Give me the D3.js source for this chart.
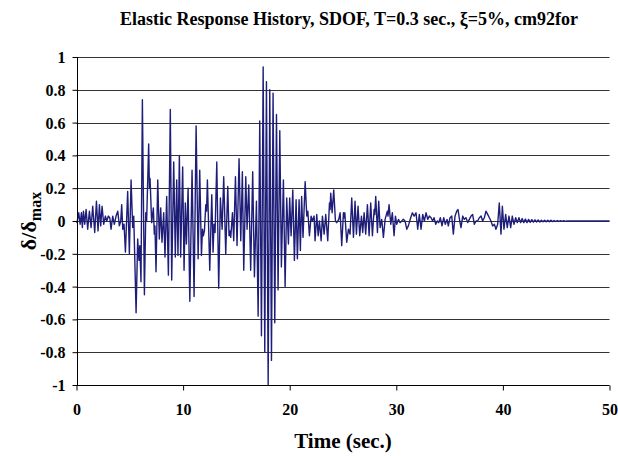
<!DOCTYPE html>
<html><head><meta charset="utf-8">
<script src="https://cdn.jsdelivr.net/npm/d3@7"></script>
<style>
body{margin:0;background:#fff;}
svg{display:block;}
text{font-family:"Liberation Serif","Times New Roman",serif;font-weight:bold;fill:#000;}
</style></head><body>
<svg id="c" width="618" height="456"></svg>
<script>
const titleText = "Elastic Response History, SDOF, T=0.3 sec., ξ=5%, cm92for";
const xLabel = "Time (sec.)";
const xTicks = [0, 10, 20, 30, 40, 50];
const yTicks = [1, 0.8, 0.6, 0.4, 0.2, 0, -0.2, -0.4, -0.6, -0.8, -1];
const yTickLabels = ["1","0.8","0.6","0.4","0.2","0","-0.2","-0.4","-0.6","-0.8","-1"];

const time = [0,0.05,0.21,0.34,0.46,0.55,0.65,0.77,0.90,1.05,1.21,1.37,1.52,1.71,1.87,2.02,2.15,2.27,2.40,2.55,2.71,2.84,2.99,3.12,3.24,3.40,3.55,3.71,3.87,4.02,4.15,4.24,4.34,4.46,4.59,4.80,4.96,5.12,5.27,5.37,5.59,5.74,5.86,5.94,6.05,6.18,6.37,6.50,6.58,6.77,6.84,6.90,7.05,7.21,7.30,7.36,7.46,7.62,7.77,7.90,8.02,8.18,8.30,8.46,8.62,8.80,8.93,9.12,9.27,9.40,9.52,9.65,9.77,9.96,10.09,10.21,10.31,10.47,10.63,10.84,11.03,11.22,11.41,11.56,11.72,11.82,11.90,12.0,12.13,12.20,12.28,12.5,12.69,12.81,12.90,13.0,13.16,13.34,13.5,13.66,13.81,14.0,14.19,14.31,14.40,14.47,14.63,14.75,14.91,15.06,15.25,15.41,15.56,15.69,15.88,16.0,16.16,16.34,16.53,16.69,16.88,17.04,17.19,17.35,17.51,17.66,17.82,17.98,18.13,18.29,18.44,18.6,18.76,18.91,19.07,19.22,19.41,19.57,19.72,19.88,20.0,20.13,20.29,20.44,20.6,20.72,20.88,21.0,21.12,21.25,21.45,21.6,21.7,21.85,22.01,22.13,22.29,22.38,22.54,22.67,22.79,22.95,23.07,23.23,23.38,23.57,23.73,23.79,23.85,23.98,24.13,24.29,24.41,24.6,24.73,24.88,25.04,25.10,25.17,25.35,25.51,25.66,25.82,25.98,26.13,26.26,26.41,26.57,26.73,26.85,26.98,27.13,27.29,27.45,27.6,27.76,27.92,27.98,28.07,28.23,28.35,28.48,28.63,28.79,28.95,29.16,29.22,29.32,29.48,29.63,29.79,29.92,30.04,30.2,30.35,30.51,30.66,30.82,30.98,31.13,31.35,31.51,31.67,31.85,32.01,32.16,32.32,32.48,32.63,32.79,32.95,33.1,33.26,33.41,33.54,33.7,33.85,33.98,34.13,34.29,34.45,34.6,34.76,34.88,35.04,35.2,35.35,35.51,35.67,35.79,35.95,36.07,36.23,36.38,36.54,36.7,36.85,37.01,37.16,37.32,37.48,37.63,37.79,37.95,38.1,38.26,38.41,38.57,38.73,38.88,39.04,39.2,39.35,39.51,39.66,39.82,39.95,40.1,40.26,40.41,40.57,40.73,40.88,41.04,41.2,41.35,41.51,41.66,41.81,41.96,42.11,42.26,42.41,42.56,42.71,42.86,43.01,43.16,43.31,43.46,43.61,43.76,43.91,44.06,44.21,44.36,44.51,44.66,44.81,44.96,45.11,45.26,45.41,45.56,45.71,45.86,46.01,46.3,50];

const response = [0,-0.01,0.05,-0.02,0.05,-0.04,0.06,-0.02,0.07,-0.05,0.06,-0.04,0.09,-0.07,0.12,-0.06,0.10,-0.03,0.09,-0.02,0.03,0.0,0.03,0.02,-0.05,0.03,-0.02,0.03,0.06,-0.03,0.0,0.10,-0.05,-0.02,-0.19,0.18,-0.20,0.25,-0.04,0.03,-0.56,-0.11,-0.24,-0.15,-0.37,0.74,-0.45,0.05,0.0,0.47,0.20,0.26,-0.01,0.08,-0.08,-0.03,-0.31,0.25,-0.11,0.08,-0.13,0.05,-0.22,0.15,-0.33,0.68,-0.36,0.36,-0.22,0.25,-0.21,0.40,-0.22,0.33,-0.30,0.11,-0.14,0.20,-0.49,0.31,-0.46,0.58,-0.23,0.31,-0.21,-0.05,-0.09,-0.06,0.10,0.06,0.25,-0.30,0.16,-0.19,-0.02,-0.07,0.36,-0.41,0.14,-0.05,0.27,-0.20,0.21,-0.09,-0.06,-0.10,0.05,-0.12,0.27,-0.15,0.38,-0.12,0.30,-0.30,0.27,-0.05,0.22,-0.30,0.30,-0.34,0.12,-0.58,0.61,-0.70,0.94,-0.80,0.85,-1.0,0.80,-0.85,0.78,-0.62,0.65,-0.42,0.55,-0.28,0.25,-0.40,0.14,-0.14,0.14,-0.09,0.19,-0.24,0.13,-0.23,0.13,-0.18,0.15,-0.10,0.24,0.03,0.06,-0.09,0.03,0.0,0.03,-0.12,0.04,-0.09,0.0,-0.12,0.03,-0.08,0.04,-0.12,0.11,0.07,0.17,0.05,0.19,0.0,-0.01,0.01,0.05,-0.15,0.05,0.02,0.05,-0.13,-0.05,-0.08,0.14,-0.10,0.12,-0.08,0.09,-0.09,0.03,-0.07,0.05,-0.08,0.10,-0.09,0.11,-0.09,0.07,0.04,0.15,-0.07,0.12,-0.04,0.01,-0.10,0.01,0.06,0.03,0.10,-0.02,0.05,-0.09,0.03,-0.02,0.01,-0.01,0.0,0.01,0.0,-0.05,-0.03,0.02,0.05,0.03,0.05,-0.05,0.04,-0.05,0.04,0.0,0.05,0.01,0.03,0.02,0.0,0.02,-0.02,0.0,-0.01,0.02,-0.03,0.02,-0.02,0.01,-0.03,0.02,0.03,-0.08,0.03,0.06,0.07,0.0,-0.04,0.03,0.01,0.02,-0.01,0.01,0.03,0.04,-0.02,0.0,0.0,0.02,0.03,0.0,0.02,0.06,0.04,0.02,0.0,-0.03,-0.02,-0.05,-0.02,0.11,-0.08,0.09,-0.05,0.04,-0.04,0.03,-0.04,0.03,-0.02,0.02,-0.01,0.02,-0.01,0.015,-0.01,0.012,-0.01,0.01,-0.008,0.008,-0.007,0.007,-0.006,0.006,-0.006,0.005,-0.005,0.005,-0.005,0.004,-0.004,0.004,-0.004,0.003,-0.003,0.003,-0.003,0.002,-0.002,0.002,-0.002,0.001,0,0];

const svg = d3.select("#c");
const x = d3.scaleLinear().domain([0, 50]).range([76.5, 609.5]);
const y = d3.scaleLinear().domain([-1, 1]).range([385, 57]);

// gridlines
svg.append("g").selectAll("line").data(yTicks.filter(v => v > -1)).join("line")
  .attr("x1", x(0)).attr("x2", x(50))
  .attr("y1", d => Math.round(y(d)) + 0.5).attr("y2", d => Math.round(y(d)) + 0.5)
  .attr("stroke", "#333").attr("stroke-width", 1);

// data line
const pts = time.map((t, i) => [t, response[i]]);
svg.append("path").datum(pts)
  .attr("fill", "none").attr("stroke", "#1e1e7a").attr("stroke-width", 1.4)
  .attr("stroke-linejoin", "round")
  .attr("d", d3.line().x(d => x(d[0])).y(d => y(d[1])));

// axes
const yAxis = d3.axisLeft(y).tickValues(yTicks).tickSize(5).tickFormat((d, i) => yTickLabels[i]);
const gy = svg.append("g").attr("transform", "translate(" + (Math.round(x(0)) + 0.5) + ",0)").call(yAxis);
gy.select(".domain").attr("stroke", "#000").attr("d", "M0," + y(1) + "V" + (y(-1)));
gy.selectAll(".tick line").attr("stroke", "#000");
gy.selectAll(".tick text").attr("x", -12).attr("dy", "0.34em")
  .style("font-family", "Liberation Serif").style("font-weight", "bold").style("font-size", "16px").attr("fill", "#000");

const xAxis = d3.axisBottom(x).tickValues(xTicks).tickSize(5).tickFormat(d3.format("d"));
const gx = svg.append("g").attr("transform", "translate(0," + (Math.round(y(-1)) + 0.5) + ")").call(xAxis);
gx.select(".domain").attr("stroke", "#000").attr("d", "M" + x(0) + ",0H" + x(50));
gx.selectAll(".tick line").attr("stroke", "#000");
gx.selectAll(".tick text").attr("y", 18).attr("dy", "0.71em")
  .style("font-family", "Liberation Serif").style("font-weight", "bold").style("font-size", "16px").attr("fill", "#000");

// title
svg.append("text").attr("x", 349).attr("y", 25).attr("text-anchor", "middle")
  .style("font-size", "18px").text(titleText);

// x label
svg.append("text").attr("x", 343).attr("y", 448).attr("text-anchor", "middle")
  .style("font-size", "21px").text(xLabel);

// y label
const yl = svg.append("text").attr("transform", "translate(36,221) rotate(-90)")
  .attr("text-anchor", "middle").style("font-size", "22px");
yl.append("tspan").text("δ/δ");
yl.append("tspan").attr("dy", 5).style("font-size", "16px").text("max");
</script>
</body></html>
